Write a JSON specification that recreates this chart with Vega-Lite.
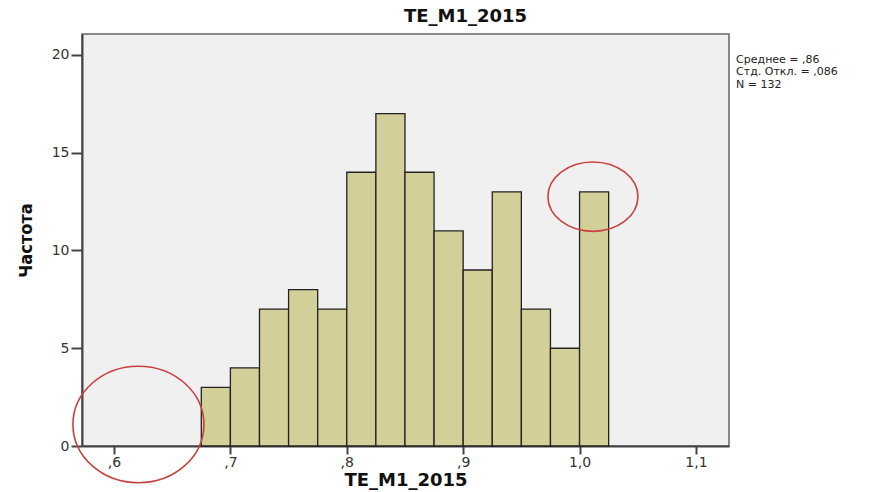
{
  "$schema": "https://vega.github.io/schema/vega-lite/v6.json",
  "autosize": "none",
  "width": 647,
  "height": 412,
  "padding": {"left": 82, "top": 34, "right": 152, "bottom": 46},
  "background": "white",
  "config": {
    "font": "DejaVu Sans",
    "view": {"fill": "#f0f0f0", "stroke": "#666666", "strokeWidth": 1.5},
    "axis": {"grid": false, "domainColor": "#444444", "domainWidth": 2, "tickColor": "#444444", "tickWidth": 2, "labelFont": "DejaVu Sans", "labelFontSize": 14, "labelColor": "#333333", "titleFont": "DejaVu Sans", "titleFontWeight": "bold", "titleColor": "#111111"}
  },
  "title": {"text": "TE_M1_2015", "font": "DejaVu Sans", "fontSize": 18, "fontWeight": "bold", "color": "#111111", "anchor": "middle", "dx": 60, "offset": 8},
  "datasets": {
    "bins": [
      {"start": 0.675, "end": 0.7, "count": 3},
      {"start": 0.7, "end": 0.725, "count": 4},
      {"start": 0.725, "end": 0.75, "count": 7},
      {"start": 0.75, "end": 0.775, "count": 8},
      {"start": 0.775, "end": 0.8, "count": 7},
      {"start": 0.8, "end": 0.825, "count": 14},
      {"start": 0.825, "end": 0.85, "count": 17},
      {"start": 0.85, "end": 0.875, "count": 14},
      {"start": 0.875, "end": 0.9, "count": 11},
      {"start": 0.9, "end": 0.925, "count": 9},
      {"start": 0.925, "end": 0.95, "count": 13},
      {"start": 0.95, "end": 0.975, "count": 7},
      {"start": 0.975, "end": 1.0, "count": 5},
      {"start": 1.0, "end": 1.025, "count": 13}
    ],
    "marks": [
      {"id": "a", "x": 0.621, "y": 1.1},
      {"id": "b", "x": 1.0115, "y": 12.75}
    ],
    "stats": [
      {"text": "Среднее = ,86\n\u00a0Стд. Откл. = ,086\nN = 132"}
    ]
  },
  "layer": [
    {
      "data": {"name": "bins"},
      "mark": {"type": "rect", "fill": "#d3cf99", "stroke": "#222222", "strokeWidth": 1.3},
      "encoding": {
        "x": {"field": "start", "type": "quantitative", "scale": {"domain": [0.5725, 1.1284], "nice": false, "zero": false},
          "axis": {"values": [0.6, 0.7, 0.8, 0.9, 1.0, 1.1], "title": "TE_M1_2015", "titleFontSize": 18, "titlePadding": 2, "tickSize": 8, "labelPadding": 1,
            "labelExpr": "datum.value < 0.99 ? replace(format(datum.value, '.1f'), '0.', ',') : replace(format(datum.value, '.1f'), '.', ',')"}},
        "x2": {"field": "end"},
        "y": {"field": "count", "type": "quantitative", "scale": {"domain": [0, 21.07], "nice": false},
          "axis": {"values": [0, 5, 10, 15, 20], "title": "Частота", "titleFont": "DejaVu Sans Condensed, Liberation Sans, sans-serif", "titleFontSize": 18, "titlePadding": 16, "tickSize": 11, "labelPadding": 2}},
        "y2": {"datum": 0}
      }
    },
    {
      "data": {"name": "marks"},
      "mark": {"type": "point", "filled": false, "stroke": "#c8403f", "strokeWidth": 1.6, "clip": false, "opacity": 1},
      "encoding": {
        "x": {"field": "x", "type": "quantitative"},
        "y": {"field": "y", "type": "quantitative"},
        "shape": {"field": "id", "type": "nominal", "legend": null,
          "scale": {"domain": ["a", "b"], "range": ["M -1 0 A 1 0.89 0 1 0 1 0 A 1 0.89 0 1 0 -1 0 Z", "M -1 0 A 1 0.77 0 1 0 1 0 A 1 0.77 0 1 0 -1 0 Z"]}},
        "size": {"field": "id", "type": "nominal", "legend": null,
          "scale": {"domain": ["a", "b"], "range": [17161, 8100]}}
      }
    },
    {
      "data": {"name": "stats"},
      "mark": {"type": "text", "align": "left", "baseline": "top", "lineBreak": "\n", "fontSize": 11, "lineHeight": 12.5, "color": "#222222", "clip": false, "font": "DejaVu Sans"},
      "encoding": {
        "text": {"field": "text"},
        "x": {"datum": 1.1345},
        "y": {"datum": 20.05}
      }
    }
  ]
}
